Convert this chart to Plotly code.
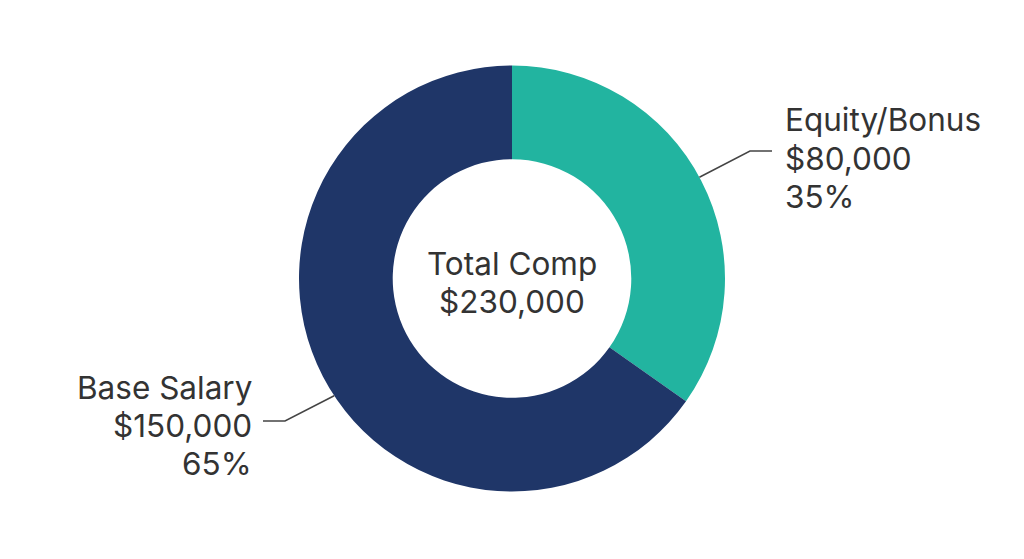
import math
import plotly.graph_objects as go

W, H = 1024, 559
OFF = 8  # page body margin in the browser

labels = ["Equity/Bonus", "Base Salary"]
values = [80000, 150000]
colors = ["#22B4A0", "#1F3668"]
center_title = "Total Comp"

total = sum(values)

# donut geometry in pixels (window coords, y down)
cx, cy, R = 512, 278.5, 213

# where each outside label sits (anchor x, first-line y, side, leader nudge in deg)
label_pos = [(783, 120, "left", -1), (254, 387, "right", -6)]
line_gap = 38
font = dict(family="Inter", size=31.5, color="#333333")

fig = go.Figure()
fig.add_trace(go.Pie(
    labels=labels,
    values=values,
    hole=0.56,
    sort=False,
    direction="clockwise",
    marker=dict(colors=colors, line=dict(width=0)),
    textinfo="none",
    hoverinfo="label+value+percent",
    showlegend=False,
    domain=dict(x=[(cx - OFF - R) / W, (cx - OFF + R) / W],
                y=[(H - (cy - OFF) - R) / H, (H - (cy - OFF) + R) / H]),
))


def px(x, y):
    return (x - OFF) / W, 1 - (y - OFF) / H


shapes = []
annotations = []
start = 0
for lab, val, (lx, ly, side, nudge) in zip(labels, values, label_pos):
    frac = val / total
    mid = (start + frac / 2) * 2 * math.pi + math.radians(nudge)
    start += frac
    # point on outer edge of the slice
    sx = cx + R * math.sin(mid)
    sy = cy - R * math.cos(mid)
    if side == "left":
        ex, hx = lx - 33, lx - 11
        ey = ly + line_gap - 7
    else:
        ex, hx = lx + 31, lx + 9
        ey = ly + line_gap - 4
    p0, p1, p2 = px(sx, sy), px(ex, ey), px(hx, ey)
    shapes.append(dict(
        type="path", xref="paper", yref="paper",
        path=f"M {p0[0]} {p0[1]} L {p1[0]} {p1[1]} L {p2[0]} {p2[1]}",
        line=dict(color="#444444", width=1.5),
    ))
    rows = [lab, f"${val:,.0f}", f"{frac * 100:.0f}%"]
    for i, row in enumerate(rows):
        ax, ay = px(lx, ly + i * line_gap)
        annotations.append(dict(
            x=ax, y=ay, xref="paper", yref="paper",
            xanchor=side, yanchor="middle", align=side,
            text=row, showarrow=False, font=font,
        ))

for i, row in enumerate([center_title, f"${total:,.0f}"]):
    mx, my = px(cx, 263 + i * line_gap)
    annotations.append(dict(
        x=mx, y=my, xref="paper", yref="paper",
        xanchor="center", yanchor="middle",
        text=row, showarrow=False, font=font,
    ))

fig.update_layout(
    width=W, height=H,
    margin=dict(l=0, r=0, t=0, b=0),
    paper_bgcolor="white",
    plot_bgcolor="white",
    shapes=shapes,
    annotations=annotations,
)

fig.write_html("out.html")
